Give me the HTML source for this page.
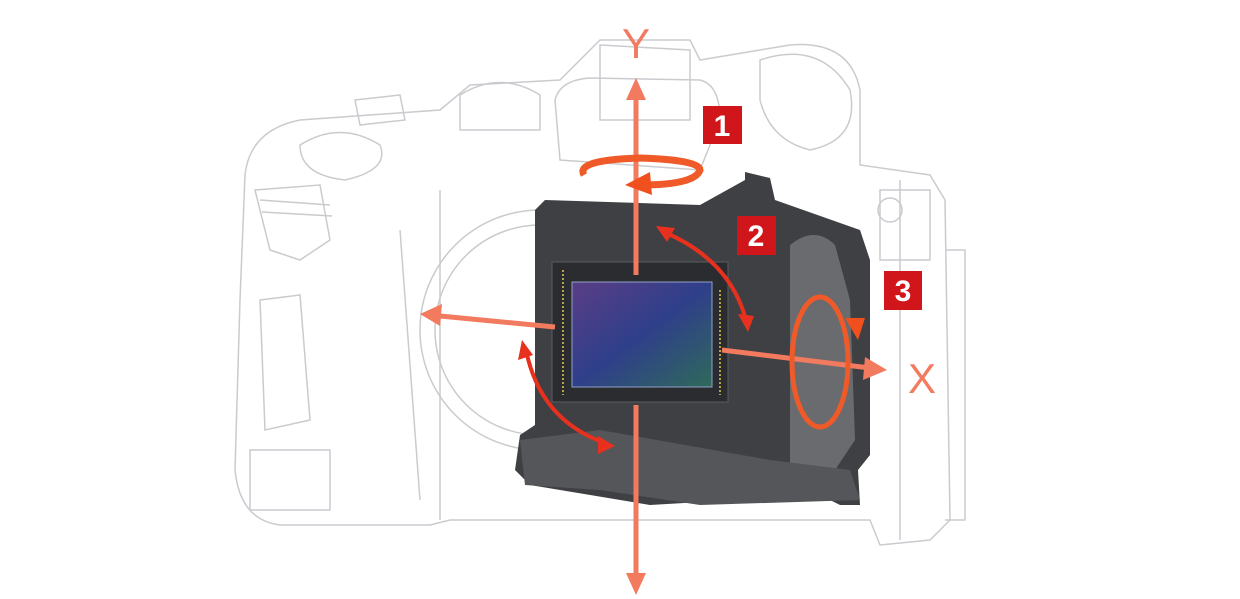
<!DOCTYPE html>
<html><head><style>
html,body{margin:0;padding:0;background:#fff;width:1240px;height:599px;overflow:hidden}
</style></head><body>
<svg width="1240" height="599" viewBox="0 0 1240 599" xmlns="http://www.w3.org/2000/svg">
<defs>
<linearGradient id="sg" x1="0" y1="0" x2="1" y2="1">
<stop offset="0" stop-color="#5a3e86"/><stop offset="0.5" stop-color="#2f3f8a"/><stop offset="1" stop-color="#2f6a5a"/>
</linearGradient>
</defs>
<g fill="none" stroke="#c9cbcf" stroke-width="1.5">
<!-- camera body outlines -->
<path d="M245,175 Q250,130 300,120 L440,110 L470,85 L560,80 L600,40 L690,40 L700,60 L790,45 Q850,40 860,90 L860,165 L930,175 L945,200 L950,520 L930,540 L880,545 L870,520 L450,520 L430,525 L280,525 Q240,520 235,470 L240,300 Z"/>
<path d="M255,190 L320,185 L330,240 L300,260 L270,250 Z"/>
<path d="M260,200 L330,205 M262,212 L332,216"/>
<path d="M300,145 Q340,120 380,145 Q390,170 345,180 Q300,175 300,145 Z"/>
<path d="M355,100 L400,95 L405,120 L360,125 Z"/>
<path d="M460,95 Q500,70 540,95 L540,130 L460,130 Z"/>
<path d="M600,45 L690,50 L690,120 L600,120 Z"/>
<path d="M555,100 Q560,80 590,78 L700,80 Q720,85 720,120 L700,170 L560,160 Z"/>
<path d="M760,60 Q820,40 850,90 Q860,140 810,150 Q770,140 760,100 Z"/>
<circle cx="540" cy="330" r="120"/><circle cx="540" cy="330" r="105"/>
<path d="M440,190 L440,520 M400,230 L420,500 M900,180 L900,540 M945,250 L965,250 L965,520 L945,520"/>
<path d="M260,300 L300,295 L310,420 L265,430 Z M250,450 L330,450 L330,510 L250,510 Z"/>
<path d="M880,190 L930,190 L930,260 L880,260 Z"/>
<circle cx="890" cy="210" r="12"/>
</g>
<!-- module -->
<path d="M535,210 L545,200 L700,205 L745,180 L745,172 L770,178 L775,200 L860,230 L870,260 L870,455 L858,470 L860,505 L840,505 L820,495 L650,505 L530,485 L515,470 L520,435 L535,425 Z" fill="#3f4043"/>
<path d="M790,245 Q815,225 835,245 L850,300 L855,440 L835,470 L790,470 Z" fill="#6a6b6e"/>
<path d="M520,440 L600,430 L770,460 L850,470 L860,500 L700,505 L600,490 L525,485 Z" fill="#555659"/>
<rect x="552" y="262" width="176" height="140" fill="#2b2c30" stroke="#5b5c60"/>
<rect x="572" y="282" width="140" height="105" fill="url(#sg)" stroke="#8fa0c8" stroke-width="1"/>
<g stroke="#b9a34a" stroke-width="2" stroke-dasharray="2 2"><line x1="563" y1="270" x2="563" y2="395"/><line x1="720" y1="290" x2="720" y2="395"/></g>
<!-- axes -->
<g stroke="#f27a5e" stroke-width="5" fill="#f27a5e">
<line x1="636" y1="95" x2="636" y2="275"/><line x1="636" y1="405" x2="636" y2="580"/>
<line x1="555" y1="327" x2="440" y2="316"/>
<line x1="722" y1="350" x2="870" y2="368"/>
</g>
<g fill="#f27a5e">
<polygon points="636,78 626,100 646,100"/><polygon points="636,595 626,573 646,573"/>
<polygon points="420,314 442,304 440,326"/><polygon points="887,370 865,357 863,380"/>
</g>
<text x="636" y="58" font-family="Liberation Sans,sans-serif" font-size="42" fill="#f27a5e" text-anchor="middle">Y</text>
<text x="922" y="393" font-family="Liberation Sans,sans-serif" font-size="42" fill="#f27a5e" text-anchor="middle">X</text>
<!-- rotation arrows -->
<path d="M584,175 Q575,160 640,158 Q700,160 700,170 Q695,185 640,185" fill="none" stroke="#f05a28" stroke-width="7"/>
<polygon points="625,185 650,172 652,195" fill="#f0501e"/>
<path d="M664,232 Q730,260 746,320" fill="none" stroke="#e8301e" stroke-width="4"/>
<polygon points="656,226 675,228 667,242" fill="#e8301e"/><polygon points="748,332 738,314 754,316" fill="#e8301e"/>
<path d="M526,350 Q540,420 605,443" fill="none" stroke="#e8301e" stroke-width="4"/>
<polygon points="522,340 518,360 533,355" fill="#e8301e"/><polygon points="615,446 598,436 598,454" fill="#e8301e"/>
<ellipse cx="820" cy="362" rx="28" ry="65" fill="none" stroke="#f05a28" stroke-width="5"/>
<polygon points="845,318 865,318 858,340" fill="#f0501e"/>
<!-- number boxes -->
<g font-family="Liberation Sans,sans-serif" font-size="30" fill="#fff" text-anchor="middle" font-weight="bold">
<rect x="703" y="106" width="39" height="38" fill="#d0161b"/><text x="722" y="136">1</text>
<rect x="737" y="216" width="39" height="39" fill="#d0161b"/><text x="756" y="246">2</text>
<rect x="884" y="271" width="38" height="39" fill="#d0161b"/><text x="903" y="301">3</text>
</g>
</svg>
</body></html>
